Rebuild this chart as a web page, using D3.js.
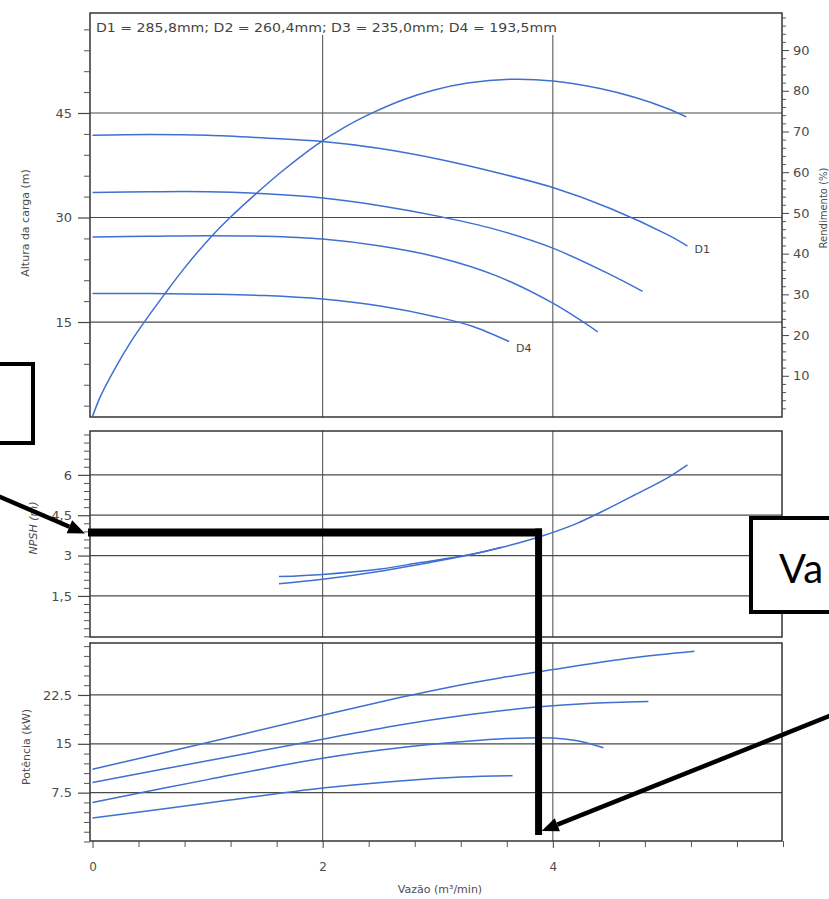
<!DOCTYPE html>
<html><head><meta charset="utf-8">
<script src="https://cdn.jsdelivr.net/npm/d3@7"></script>
<style>
body{margin:0;background:#fff}
svg{display:block}
text{font-family:"DejaVu Sans",Verdana,sans-serif}
</style>
</head><body>
<svg id="c" width="829" height="899"></svg>
<script>
// ---------------- data ----------------
const xTicks = [0, 2, 4];
const headTicks = [15, 30, 45];
const effTicks = [10, 20, 30, 40, 50, 60, 70, 80, 90];
const npshTicks = [1.5, 3, 4.5, 6];
const npshTickLabels = ["1,5", "3", "4,5", "6"];
const powerTicks = [7.5, 15, 22.5];
const powerTickLabels = ["7.5", "15", "22.5"];
const diameterNote = "D1 = 285,8mm; D2 = 260,4mm; D3 = 235,0mm; D4 = 193,5mm";

// Altura de carga (m) vs vazão (m³/min)
const headD1 = [[0,41.8],[0.5,41.9],[1,41.8],[1.5,41.4],[2,40.9],[2.5,39.9],[3,38.4],[3.5,36.5],[4,34.3],[4.5,31.3],[5,27.5],[5.17,25.9]];
const headD2 = [[0,33.6],[0.5,33.7],[1,33.7],[1.5,33.4],[2,32.8],[2.5,31.7],[3,30.2],[3.5,28.3],[4,25.6],[4.5,21.8],[4.78,19.4]];
const headD3 = [[0,27.2],[0.5,27.3],[1,27.4],[1.5,27.3],[2,26.9],[2.5,25.9],[3,24.3],[3.5,21.7],[4,17.7],[4.39,13.6]];
const headD4 = [[0,19.1],[0.5,19.1],[1,19.0],[1.5,18.8],[2,18.3],[2.5,17.3],[3,15.7],[3.3,14.4],[3.62,12.2]];
// Rendimento (%)
const efficiency = [[0,0],[0.07,5],[0.2,12],[0.33,18.2],[0.46,23.6],[0.62,29.8],[0.8,36.5],[1.01,43.5],[1.2,49],[1.4,54.2],[1.65,60.3],[1.95,66.8],[2.2,71.2],[2.45,74.8],[2.7,77.8],[2.97,80.2],[3.26,81.9],[3.63,82.8],[4,82.4],[4.42,80.5],[4.71,78.4],[5,75.6],[5.16,73.6]];
// NPSH (m)
const npshA = [[1.62,2.22],[2.0,2.3],[2.5,2.5],[2.85,2.74],[3.26,3.02],[3.55,3.3],[3.9,3.72],[4.2,4.18],[4.42,4.62],[4.71,5.25],[5.0,5.9],[5.17,6.37]];
const npshB = [[1.62,1.95],[2.0,2.12],[2.5,2.42],[3.0,2.8],[3.3,3.05],[3.55,3.3]];
// Potência (kW)
const powerD1 = [[0,11.1],[1,15.2],[2,19.4],[2.67,22.1],[3.1,23.7],[3.54,25.1],[4,26.4],[4.7,28.2],[5.23,29.2]];
const powerD2 = [[0,9.05],[1,12.4],[2,15.7],[2.67,17.9],[3.2,19.3],[3.83,20.6],[4.3,21.2],[4.83,21.5]];
const powerD3 = [[0,6.0],[1,9.5],[2,12.8],[2.67,14.4],[3.2,15.3],[3.6,15.8],[4.0,15.9],[4.2,15.5],[4.44,14.4]];
const powerD4 = [[0,3.6],[1,5.9],[2,8.2],[2.67,9.3],[3.2,9.9],[3.65,10.1]];

// annotation values (in data units)
const markNpsh = 3.86;
const markFlow = 3.876;

// ---------------- layout ----------------
const svg = d3.select("#c");
const blue = "#3e6fd1";
const gridCol = "#4a4a4a";
const labCol = "#4d4d4d";
const L = 90, R = 782;

const x = d3.scaleLinear().domain([0, 6]).range([92.5, 783]);
const yHead = d3.scaleLinear().domain([1.37, 59.35]).range([417, 13]);
const yEff = d3.scaleLinear().domain([0, 99.1]).range([416.5, 13]);
const yNpsh = d3.scaleLinear().domain([0, 7.63]).range([636.3, 431]);
const yPow = d3.scaleLinear().domain([0, 30.48]).range([841.5, 643]);

const panels = [
  {top: 13, bot: 417, y: yHead, gridStart: 35},
  {top: 431, bot: 637, y: yNpsh, gridStart: 431},
  {top: 643, bot: 841, y: yPow, gridStart: 643}
];

// gridlines
panels.forEach(p => {
  [2, 4].forEach(v => svg.append("line")
    .attr("x1", x(v)).attr("x2", x(v)).attr("y1", p.gridStart).attr("y2", p.bot)
    .attr("stroke", gridCol).attr("stroke-width", 1));
});
function hGrid(scale, vals){
  vals.forEach(v => svg.append("line").attr("x1", L).attr("x2", R)
    .attr("y1", scale(v)).attr("y2", scale(v)).attr("stroke", gridCol).attr("stroke-width", 1.2));
}
hGrid(yHead, headTicks);
hGrid(yNpsh, npshTicks);
hGrid(yPow, powerTicks);

// panel borders
panels.forEach(p => svg.append("rect").attr("x", L).attr("y", p.top)
  .attr("width", R - L).attr("height", p.bot - p.top)
  .attr("fill", "none").attr("stroke", "#333").attr("stroke-width", 1.5));

// axes helpers
function leftAxis(scale, major, labels, minorStep){
  const lo = scale.domain()[0], hi = scale.domain()[1];
  const minor = d3.range(Math.ceil(lo / minorStep) * minorStep, hi, minorStep)
    .filter(v => !major.some(m => Math.abs(m - v) < 1e-6));
  svg.append("g").attr("transform", `translate(${L},0)`)
    .call(d3.axisLeft(scale).tickValues(minor).tickSize(6).tickFormat(""))
    .call(g => { g.select(".domain").remove(); g.selectAll("line").attr("stroke", "#555"); });
  svg.append("g").attr("transform", `translate(${L},0)`)
    .call(d3.axisLeft(scale).tickValues(major).tickSize(12).tickPadding(6)
      .tickFormat((d, i) => labels ? labels[i] : d))
    .call(g => {
      g.select(".domain").remove();
      g.selectAll("line").attr("stroke", "#444").attr("stroke-width", 1.2);
      g.selectAll("text").attr("font-size", 13).attr("fill", labCol)
        .style("font-family", "'DejaVu Sans', sans-serif");
    });
}
leftAxis(yHead, headTicks, null, 3);
leftAxis(yNpsh, npshTicks, npshTickLabels, 0.3);
leftAxis(yPow, powerTicks, powerTickLabels, 1.5);

// right axis (rendimento)
{
  const minor = d3.range(2, 99, 2).filter(v => v % 10 !== 0);
  svg.append("g").attr("transform", `translate(${R},0)`)
    .call(d3.axisRight(yEff).tickValues(minor).tickSize(4).tickFormat(""))
    .call(g => { g.select(".domain").remove(); g.selectAll("line").attr("stroke", "#555"); });
  svg.append("g").attr("transform", `translate(${R},0)`)
    .call(d3.axisRight(yEff).tickValues(effTicks).tickSize(7).tickPadding(4))
    .call(g => {
      g.select(".domain").remove();
      g.selectAll("line").attr("stroke", "#444");
      g.selectAll("text").attr("font-size", 13).attr("fill", labCol)
        .style("font-family", "'DejaVu Sans', sans-serif");
    });
}

// bottom axis
{
  const minor = d3.range(0.4, 6.01, 0.4).filter(v => !xTicks.some(m => Math.abs(m - v) < 1e-6));
  svg.append("g").attr("transform", `translate(0,841)`)
    .call(d3.axisBottom(x).tickValues(minor).tickSize(6).tickFormat(""))
    .call(g => { g.select(".domain").remove(); g.selectAll("line").attr("stroke", "#555"); });
  svg.append("g").attr("transform", `translate(0,841)`)
    .call(d3.axisBottom(x).tickValues(xTicks).tickSize(7).tickPadding(14).tickFormat(d3.format("d")))
    .call(g => {
      g.select(".domain").remove();
      g.selectAll("line").attr("stroke", "#444");
      g.selectAll("text").attr("font-size", 12).attr("fill", labCol)
        .style("font-family", "'DejaVu Sans', sans-serif");
    });
}

// axis titles
function vTitle(txt, cx, cy, opts = {}){
  const t = svg.append("text").attr("transform", `translate(${cx},${cy}) rotate(-90)`)
    .attr("text-anchor", "middle").attr("font-size", opts.size || 11).attr("fill", labCol).text(txt);
  if (opts.italic) t.attr("font-style", "italic");
  return t;
}
vTitle("Altura da carga (m)", 29, 223);
vTitle("NPSH (m)", 37, 528, {italic: true});
vTitle("Potência (kW)", 30, 747);
vTitle("Rendimento (%)", 827, 208, {size: 10});
svg.append("text").attr("x", 440).attr("y", 893).attr("text-anchor", "middle")
  .attr("font-size", 11).attr("fill", labCol).text("Vazão (m³/min)");

// diameter note
svg.append("text").attr("x", 96).attr("y", 32).attr("font-size", 12.5).attr("fill", "#444")
  .attr("textLength", 461).attr("lengthAdjust", "spacingAndGlyphs").text(diameterNote);

// curves
const lineGen = ys => d3.line().x(d => x(d[0])).y(d => ys(d[1])).curve(d3.curveCatmullRom.alpha(0.5));
function curve(data, ys){
  svg.append("path").datum(data).attr("d", lineGen(ys))
    .attr("fill", "none").attr("stroke", blue).attr("stroke-width", 1.5);
}
[headD1, headD2, headD3, headD4].forEach(d => curve(d, yHead));
curve(efficiency, yEff);
curve(npshA, yNpsh);
curve(npshB, yNpsh);
[powerD1, powerD2, powerD3, powerD4].forEach(d => curve(d, yPow));

// curve labels
const lastD1 = headD1[headD1.length - 1], lastD4 = headD4[headD4.length - 1];
svg.append("text").attr("x", x(lastD1[0]) + 7).attr("y", yHead(lastD1[1]) + 7)
  .attr("font-size", 11).attr("fill", "#444").text("D1");
svg.append("text").attr("x", x(lastD4[0]) + 7).attr("y", yHead(lastD4[1]) + 10)
  .attr("font-size", 11).attr("fill", "#444").text("D4");

// ---------------- annotations ----------------
const hy = yNpsh(markNpsh), vx = x(markFlow);
svg.append("line").attr("x1", L - 2).attr("x2", vx + 3.5).attr("y1", hy).attr("y2", hy)
  .attr("stroke", "#000").attr("stroke-width", 8);
svg.append("line").attr("x1", vx).attr("x2", vx).attr("y1", hy - 4).attr("y2", 835)
  .attr("stroke", "#000").attr("stroke-width", 7);

// left box
svg.append("rect").attr("x", -10).attr("y", 364).attr("width", 43).attr("height", 79)
  .attr("fill", "#fff").attr("stroke", "#000").attr("stroke-width", 4);
// right box
svg.append("rect").attr("x", 751).attr("y", 518).attr("width", 100).attr("height", 94)
  .attr("fill", "#fff").attr("stroke", "#000").attr("stroke-width", 4);
svg.append("text").attr("x", 779).attr("y", 583).attr("font-size", 40)
  .style("font-family", "Lato, 'Open Sans', sans-serif").attr("fill", "#000").text("Va");

function arrow(x1, y1, x2, y2){
  const ang = Math.atan2(y2 - y1, x2 - x1);
  const len = 17, half = 7;
  const bx = x2 - len * Math.cos(ang), by = y2 - len * Math.sin(ang);
  svg.append("line").attr("x1", x1).attr("y1", y1).attr("x2", bx).attr("y2", by)
    .attr("stroke", "#000").attr("stroke-width", 4.5);
  const p = [[x2, y2],
    [bx + half * Math.sin(ang), by - half * Math.cos(ang)],
    [bx - half * Math.sin(ang), by + half * Math.cos(ang)]];
  svg.append("path").attr("d", "M" + p.map(q => q.join(",")).join("L") + "Z").attr("fill", "#000");
}
arrow(-2, 496, L - 5, hy + 1);
arrow(832, 715, vx + 3, 831);
</script>
</body></html>
